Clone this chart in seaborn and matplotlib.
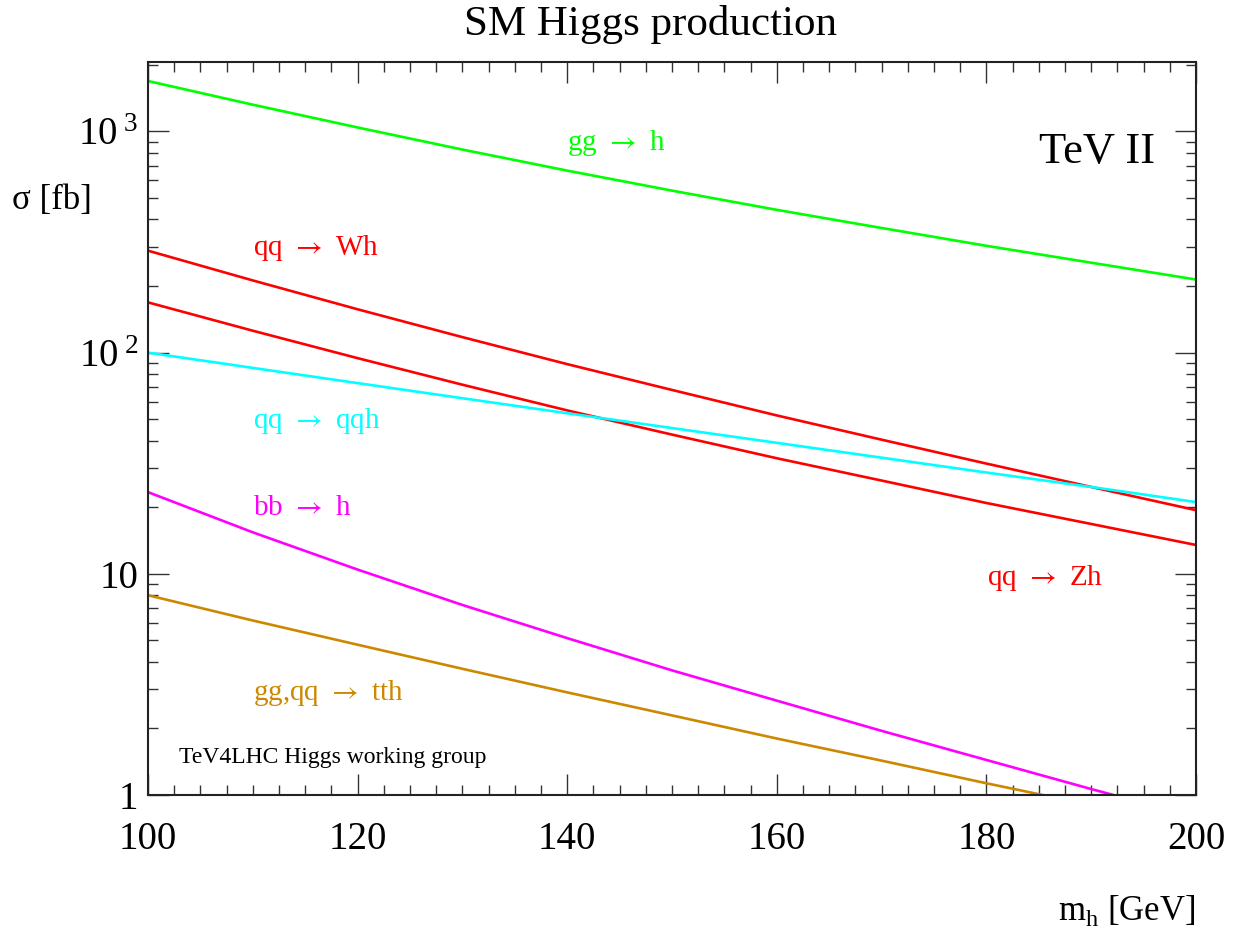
import numpy as np
import pandas as pd
import seaborn as sns
import matplotlib.pyplot as plt
from matplotlib.ticker import FixedLocator, FixedFormatter, MultipleLocator, NullFormatter

# Higgs masses (GeV) and cross sections (fb)
m_h = [100, 110, 120, 130, 140, 150, 160, 170, 180, 190, 200]
sigma_gg_h = [1690, 1321, 1042, 828, 665, 540, 442, 366, 304, 255, 214]
sigma_wh = [289, 212, 157, 117.5, 88.7, 67.8, 52.0, 40.4, 31.5, 24.7, 19.4]
sigma_zh = [168.7, 125.6, 94.4, 71.6, 54.8, 42.6, 33.3, 26.4, 20.9, 16.8, 13.5]
sigma_qqh = [100, 85.3, 72.8, 62.2, 53.2, 45.6, 39.1, 33.5, 28.7, 24.7, 21.1]
sigma_bbh = [23.4, 15.4, 10.45, 7.23, 5.12, 3.66, 2.67, 1.95, 1.44, 1.064, 0.794]
sigma_tth = [8.0, 6.15, 4.78, 3.72, 2.91, 2.29, 1.80, 1.43, 1.13, 0.90, 0.71]

channels = ['gg_h', 'wh', 'zh', 'qqh', 'bbh', 'tth']
colors = {'gg_h': '#00ff00', 'wh': '#ff0000', 'zh': '#ff0000',
          'qqh': '#00ffff', 'bbh': '#ff00ff', 'tth': '#cc8800'}

df = pd.concat([
    pd.DataFrame({'m_h': m_h, 'sigma': s, 'channel': c})
    for c, s in zip(channels, [sigma_gg_h, sigma_wh, sigma_zh, sigma_qqh, sigma_bbh, sigma_tth])
])

sns.set_theme(style='ticks', rc={'text.color': 'black', 'xtick.labelcolor': 'black',
                                 'ytick.labelcolor': 'black'})
plt.rcParams['font.family'] = ['Liberation Serif', 'DejaVu Serif']
plt.rcParams['mathtext.fontset'] = 'custom'
plt.rcParams['mathtext.rm'] = 'Liberation Serif'
plt.rcParams['mathtext.sf'] = 'STIXGeneral'

ARROW = r'$\mathsf{\rightarrow}$'

fig = plt.figure(figsize=(12.34, 9.33), dpi=100)
ax = fig.add_axes([148 / 1234, 138 / 933, 1048 / 1234, 733 / 933])

sns.lineplot(data=df, x='m_h', y='sigma', hue='channel', palette=colors,
             linewidth=1.9, legend=False, ax=ax, sort=False)

ax.set_yscale('log')
ax.set_xlim(100, 200)
ax.set_ylim(1, 2060)

# axis ticks, ROOT style: inside, on all four sides
ax.xaxis.set_major_locator(MultipleLocator(20))
ax.xaxis.set_minor_locator(MultipleLocator(2.5))
ax.yaxis.set_major_locator(FixedLocator([1, 10, 100, 1000]))
ax.yaxis.set_major_formatter(FixedFormatter(
    ['1', '10', r'$\mathregular{10\,{}^{2}}$', r'$\mathregular{10\,{}^{3}}$']))
minor_y = [m * 10 ** e for e in range(0, 4) for m in range(2, 10)]
ax.yaxis.set_minor_locator(FixedLocator(minor_y))
ax.yaxis.set_minor_formatter(NullFormatter())

ax.tick_params(which='both', direction='in', top=True, right=True, color='#333333', width=1.0)
ax.tick_params(which='major', length=15)
ax.tick_params(which='minor', length=7.5)
ax.tick_params(axis='x', which='major', labelsize=28, pad=19)
ax.tick_params(axis='y', which='major', labelsize=28, pad=7)
for sp in ax.spines.values():
    sp.set_linewidth(1.5)
    sp.set_color('#222222')

ax.set_xlabel('')
ax.set_ylabel('')

# process labels
ax.text(140, 887, f'gg {ARROW} h', color='#00ff00', fontsize=21, va='center')
ax.text(110, 297, f'qq {ARROW} Wh', color='#ff0000', fontsize=21, va='center')
ax.text(110, 49, f'qq {ARROW} qqh', color='#00ffff', fontsize=21, va='center')
ax.text(110, 19.8, f'bb {ARROW} h', color='#ff00ff', fontsize=21, va='center')
ax.text(110, 2.9, f'gg,qq {ARROW} tth', color='#cc8800', fontsize=21, va='center')
ax.text(180.1, 9.6, f'qq {ARROW} Zh', color='#ff0000', fontsize=21, va='center')
ax.text(196.1, 807, 'TeV II', color='black', fontsize=32, ha='right', va='center')
ax.text(103.0, 1.48, 'TeV4LHC Higgs working group', color='black', fontsize=17, va='center')

fig.text(650 / 1234, 1 - 25 / 933, 'SM Higgs production', fontsize=31, ha='center', va='center')
fig.text(12 / 1234, 1 - 200 / 933, 'σ [fb]', fontsize=25, ha='left', va='center')
fig.text(1195 / 1234, 1 - 910 / 933, r'm$_{\mathregular{h}}$ [GeV]', fontsize=25, ha='right', va='center')

fig.savefig('out.png', dpi=100)
